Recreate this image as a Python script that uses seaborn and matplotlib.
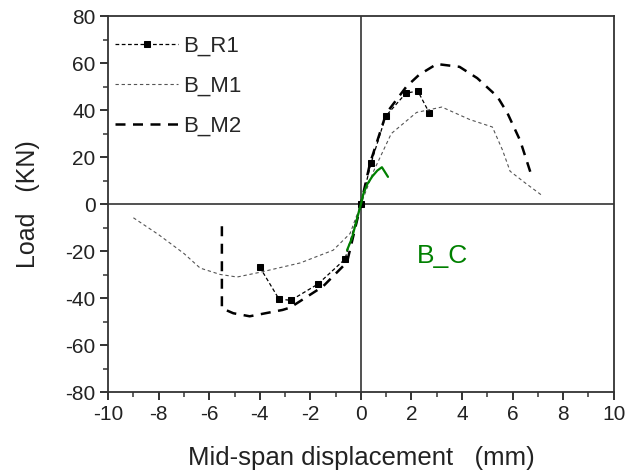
import matplotlib
matplotlib.use("Agg")
import matplotlib.pyplot as plt
import seaborn as sns
import pandas as pd
from matplotlib.ticker import MultipleLocator

# mid-span displacement (mm) / load (kN)
r1_x = [-4.0, -3.24, -2.77, -1.7, -0.63, 0.0, 0.4, 0.98, 1.78, 2.25, 2.7]
r1_y = [-26.8, -40.4, -40.9, -34.0, -23.4, 0.0, 17.4, 37.4, 47.2, 48.1, 38.9]

m1_x = [-9.0, -8.0, -7.0, -6.36, -5.57, -4.9, -4.0, -2.4, -1.1, -0.43, 0.0,
        0.5, 1.2, 2.2, 3.2, 4.3, 5.2, 5.6, 5.9, 6.5, 7.15]
m1_y = [-5.8, -13.0, -21.0, -27.2, -29.9, -31.0, -29.0, -25.0, -19.6, -12.5, 0.0,
        14.0, 30.0, 39.0, 41.3, 36.0, 32.8, 23.0, 14.0, 9.0, 3.8]

m2_x = [-5.5, -5.5, -5.05, -4.4, -3.1, -2.8, -1.5, -0.55, 0.0,
        0.36, 1.0, 1.8, 2.3, 3.0, 3.9, 4.6, 5.4, 5.8, 6.3, 6.7]
m2_y = [-9.4, -44.3, -46.4, -47.7, -45.0, -44.0, -35.0, -24.7, 0.0,
        17.4, 38.6, 50.0, 55.0, 59.6, 58.4, 53.6, 45.7, 38.6, 27.0, 13.7]

c_x = [-0.55, -0.36, 0.0, 0.1, 0.25, 0.45, 0.65, 0.83, 1.07]
c_y = [-19.6, -14.6, 0.0, 4.5, 8.5, 11.8, 14.3, 15.7, 11.6]

sns.set_style("ticks")
plt.rcParams["font.family"] = ["Liberation Sans", "DejaVu Sans"]
plt.rcParams["axes.unicode_minus"] = False

fig = plt.figure(figsize=(6.36, 4.72), dpi=100)
ax = fig.add_axes([0.170, 0.169, 0.795, 0.797])

r1 = pd.DataFrame({"x": r1_x, "y": r1_y})
m1 = pd.DataFrame({"x": m1_x, "y": m1_y})
m2 = pd.DataFrame({"x": m2_x, "y": m2_y})
bc = pd.DataFrame({"x": c_x, "y": c_y})

sns.lineplot(data=r1, x="x", y="y", sort=False, estimator=None, ax=ax,
             color="black", lw=0.9, linestyle=(0, (3, 2)),
             marker="s", markersize=5, markeredgecolor="black", label="B_R1")
sns.lineplot(data=m1, x="x", y="y", sort=False, estimator=None, ax=ax,
             color="#555555", lw=0.8, linestyle=(0, (3, 2.5)), label="B_M1")
sns.lineplot(data=m2, x="x", y="y", sort=False, estimator=None, ax=ax,
             color="black", lw=1.8, linestyle=(0, (4, 3)), label="B_M2")
sns.lineplot(data=bc, x="x", y="y", sort=False, estimator=None, ax=ax,
             color="#008000", lw=1.6, legend=False)

ax.axhline(0, color="#333333", lw=1.2, zorder=0)
ax.axvline(0, color="#333333", lw=1.2, zorder=0)

ax.text(2.2, -22, "B_C", color="#008000", fontsize=19, va="center")

ax.set_xlim(-10, 10)
ax.set_ylim(-80, 80)
ax.xaxis.set_major_locator(MultipleLocator(2))
ax.xaxis.set_minor_locator(MultipleLocator(1))
ax.yaxis.set_major_locator(MultipleLocator(20))
ax.yaxis.set_minor_locator(MultipleLocator(10))
ax.tick_params(which="major", length=6, width=1.3, labelsize=15,
               direction="out", colors="#222222", pad=3)
ax.tick_params(which="minor", length=3.5, width=1.1, direction="out",
               colors="#333333")
for s in ax.spines.values():
    s.set_linewidth(1.3)
    s.set_color("#333333")
    s.set_visible(True)

ax.set_xlabel("Mid-span displacement   (mm)", fontsize=18.5, labelpad=16,
              color="#222222")
ax.set_ylabel("Load   (KN)", fontsize=18, labelpad=18, color="#222222")

ax.legend(loc="upper left", frameon=False, fontsize=16, handlelength=2.8,
          handletextpad=0.25, labelspacing=0.85, bbox_to_anchor=(-0.025, 1.0))

fig.savefig("out.png", dpi=100)
